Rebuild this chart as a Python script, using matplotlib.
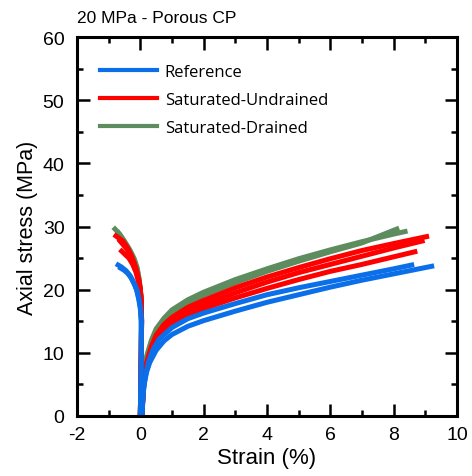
import numpy as np
import matplotlib
matplotlib.use('Agg')
import matplotlib.pyplot as plt

plt.rcParams['axes.unicode_minus'] = False

# stress-strain curves (strain in %, stress in MPa)
# axial branches (positive strain)
ref_ax_1_e = [0.05, 0.08, 0.12, 0.2, 0.3, 0.5, 0.75, 1.0, 1.5, 2.0, 3.0, 4.0, 5.0, 6.0, 7.0, 8.0, 9.2]
ref_ax_1_s = [0.0, 3.0, 5.0, 7.0, 8.5, 10.4, 11.9, 12.9, 14.2, 15.1, 16.6, 18.0, 19.2, 20.4, 21.5, 22.5, 23.7]
ref_ax_2_e = [0.05, 0.1, 0.15, 0.25, 0.4, 0.6, 1.0, 1.5, 2.0, 3.0, 4.0, 5.0, 6.0, 7.0, 8.0, 8.57]
ref_ax_2_s = [0.0, 4.0, 6.0, 8.5, 10.5, 12.2, 14.0, 15.4, 16.3, 17.8, 19.2, 20.3, 21.3, 22.3, 23.3, 23.9]

und_ax_1_e = [0.05, 0.1, 0.2, 0.35, 0.5, 0.75, 1.0, 1.5, 2.0, 3.0, 4.0, 5.0, 6.0, 7.0, 8.0, 9.04]
und_ax_1_s = [0.0, 5.0, 8.5, 11.0, 12.8, 14.5, 15.6, 17.2, 18.3, 20.3, 22.0, 23.5, 24.9, 26.2, 27.3, 28.4]
und_ax_2_e = [0.05, 0.1, 0.2, 0.35, 0.5, 0.75, 1.0, 1.5, 2.0, 3.0, 4.0, 5.0, 6.0, 7.0, 8.0, 8.9]
und_ax_2_s = [0.0, 4.8, 8.2, 10.6, 12.3, 14.0, 15.0, 16.6, 17.6, 19.5, 21.2, 22.7, 24.0, 25.3, 26.6, 27.7]
und_ax_3_e = [0.05, 0.1, 0.2, 0.35, 0.5, 0.75, 1.0, 1.5, 2.0, 3.0, 4.0, 5.0, 6.0, 7.0, 8.0, 8.67]
und_ax_3_s = [0.0, 4.6, 8.0, 10.3, 12.0, 13.6, 14.6, 16.0, 17.0, 18.7, 20.2, 21.6, 22.9, 24.0, 25.2, 26.0]

dr_ax_1_e = [0.05, 0.1, 0.2, 0.35, 0.5, 0.75, 1.0, 1.5, 2.0, 3.0, 4.0, 5.0, 6.0, 7.0, 8.0, 8.36]
dr_ax_1_s = [0.0, 5.5, 9.5, 12.0, 13.8, 15.5, 16.8, 18.4, 19.6, 21.6, 23.3, 24.9, 26.3, 27.6, 28.8, 29.2]
dr_ax_2_e = [0.05, 0.1, 0.2, 0.35, 0.5, 0.75, 1.0, 1.5, 2.0, 3.0, 4.0, 5.0, 6.0, 7.0, 8.1]
dr_ax_2_s = [0.0, 5.2, 9.0, 11.6, 13.3, 15.0, 16.3, 17.9, 19.1, 21.1, 22.9, 24.5, 26.0, 27.4, 29.6]

# radial branches (negative strain)
ref_rad_1_e = [0.0, 0.02, 0.03, 0.03, 0.0, -0.05, -0.12, -0.2, -0.32, -0.45, -0.6, -0.7]
ref_rad_1_s = [0.0, 5.0, 10.0, 15.0, 17.0, 18.5, 20.0, 21.0, 22.2, 23.0, 23.6, 23.9]
ref_rad_2_e = [0.0, 0.02, 0.03, 0.03, 0.01, -0.04, -0.1, -0.18, -0.28, -0.4, -0.52, -0.62]
ref_rad_2_s = [0.0, 5.0, 10.0, 15.0, 17.0, 18.5, 19.8, 20.8, 21.8, 22.6, 23.1, 23.4]

und_rad_1_e = [0.0, 0.03, 0.04, 0.03, 0.0, -0.05, -0.12, -0.2, -0.3, -0.4, -0.55, -0.77]
und_rad_1_s = [0.0, 10.0, 15.0, 18.0, 20.0, 21.5, 23.0, 24.3, 25.6, 26.6, 27.7, 28.5]
und_rad_2_e = [0.0, 0.03, 0.04, 0.03, 0.0, -0.05, -0.12, -0.2, -0.3, -0.42, -0.64]
und_rad_2_s = [0.0, 10.0, 15.0, 18.0, 20.0, 21.5, 23.0, 24.2, 25.4, 26.4, 27.7]
und_rad_3_e = [0.0, 0.03, 0.04, 0.03, 0.0, -0.06, -0.14, -0.24, -0.36, -0.59]
und_rad_3_s = [0.0, 10.0, 15.0, 18.0, 19.8, 21.3, 22.8, 24.0, 25.0, 26.1]

dr_rad_1_e = [0.0, 0.03, 0.04, 0.02, -0.03, -0.1, -0.2, -0.33, -0.5, -0.65, -0.8]
dr_rad_1_s = [0.0, 10.0, 15.0, 19.0, 21.5, 23.5, 25.0, 26.3, 27.7, 28.8, 29.6]
dr_rad_2_e = [0.0, 0.03, 0.04, 0.02, -0.03, -0.1, -0.2, -0.33, -0.5, -0.7]
dr_rad_2_s = [0.0, 10.0, 15.0, 19.0, 21.3, 23.2, 24.6, 25.9, 27.3, 29.0]

groups = ['Reference', 'Saturated-Undrained', 'Saturated-Drained']
colors = {'Reference': '#0a6fe8', 'Saturated-Undrained': '#ff0000', 'Saturated-Drained': '#5d8c5e'}

curves = {
    'Saturated-Drained': [(dr_ax_1_e, dr_ax_1_s), (dr_ax_2_e, dr_ax_2_s),
                          (dr_rad_1_e, dr_rad_1_s), (dr_rad_2_e, dr_rad_2_s)],
    'Saturated-Undrained': [(und_ax_1_e, und_ax_1_s), (und_ax_2_e, und_ax_2_s), (und_ax_3_e, und_ax_3_s),
                            (und_rad_1_e, und_rad_1_s), (und_rad_2_e, und_rad_2_s), (und_rad_3_e, und_rad_3_s)],
    'Reference': [(ref_ax_1_e, ref_ax_1_s), (ref_ax_2_e, ref_ax_2_s),
                  (ref_rad_1_e, ref_rad_1_s), (ref_rad_2_e, ref_rad_2_s)],
}

fig = plt.figure(figsize=(4.72, 4.77), dpi=100)
ax = fig.add_axes([0.1631, 0.1258, 0.8051, 0.7945])

# draw order: drained below, reference on top
for g in ['Saturated-Drained', 'Saturated-Undrained', 'Reference']:
    for e, s in curves[g]:
        ax.plot(e, s, color=colors[g], lw=3.6)

# legend handles
handles = [plt.Line2D([], [], color=colors[g], lw=3.0) for g in groups]
ax.legend(handles, groups, loc='upper left', bbox_to_anchor=(0.06, 0.93),
          frameon=False, borderpad=0, borderaxespad=0, handlelength=3.45,
          handletextpad=0.45, labelspacing=0.72,
          prop={'family': 'Open Sans', 'size': 12})

ax.set_xlim(-2, 10)
ax.set_ylim(0, 60)
ax.set_xticks(np.arange(-2, 11, 2))
ax.set_yticks(np.arange(0, 61, 10))
ax.set_xticks(np.arange(-1, 10, 2), minor=True)
ax.set_yticks(np.arange(5, 60, 10), minor=True)
ax.tick_params(which='both', direction='in', top=True, right=True, width=1.8)
ax.tick_params(which='major', length=9, labelsize=14)
ax.tick_params(which='minor', length=4.5)
ax.tick_params(axis='y', which='major', pad=9)
ax.tick_params(axis='x', which='major', pad=7)
for lab in ax.get_xticklabels() + ax.get_yticklabels():
    lab.set_family('Liberation Sans')
for sp in ax.spines.values():
    sp.set_linewidth(2.2)

ax.set_xlabel('Strain (%)', fontsize=16, family='Liberation Sans', labelpad=3)
ax.set_ylabel('Axial stress (MPa)', fontsize=15.5, family='Liberation Sans', labelpad=3)

fig.text(77/472, 1 - 23/477, '20 MPa - Porous CP', fontsize=12.5, family='Liberation Sans', va='baseline')

plt.savefig('out.png', dpi=100)
